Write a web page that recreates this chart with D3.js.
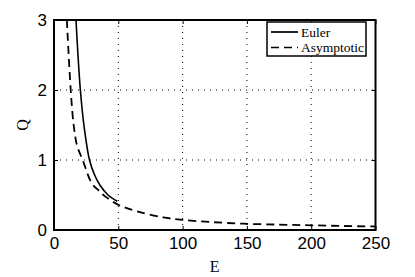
<!DOCTYPE html>
<html lang="en">
<head>
<meta charset="UTF-8">
<title>Q versus E</title>
<style>
  body { margin: 0; background: #fff; }
  svg { display: block; }
  .tick text { font-family: "Liberation Sans", Arial, sans-serif; font-size: 17px; fill: #000; }
  .lbl { font-family: "Liberation Serif", "DejaVu Serif", serif; font-size: 16px; fill: #000; }
  .leg { font-family: "Liberation Serif", "DejaVu Serif", serif; font-size: 13.5px; fill: #000; }
</style>
</head>
<body>
<div id="chart"></div>
<script src="https://d3js.org/d3.v7.min.js"></script>
<script>
// values
const eulerE = [17.1, 20.5, 23.6, 27.6, 31.5, 35.8, 42, 49.2];
const eulerQ = [3.0, 2.0, 1.45, 1.0, 0.79, 0.64, 0.5, 0.41];
const asymE = [10, 13, 15.3, 18, 22.3, 29.3, 35, 39.7, 50, 64, 85, 100, 121, 147, 175, 200, 225, 250];
const asymQ = [3.0, 2.0, 1.5, 1.2, 1.0, 0.67, 0.56, 0.48, 0.36, 0.27, 0.18, 0.145, 0.115, 0.09, 0.077, 0.067, 0.057, 0.05];
const xTicks = [0, 50, 100, 150, 200, 250];
const yTicks = [0, 1, 2, 3];

const W = 415, H = 277;
const m = { left: 54, right: 39.5, top: 20, bottom: 47 };
const iw = W - m.left - m.right, ih = H - m.top - m.bottom;

const svg = d3.select("#chart").append("svg").attr("width", W).attr("height", H);
const g = svg.append("g").attr("transform", `translate(${m.left},${m.top})`);

const x = d3.scaleLinear().domain([0, 250]).range([0, iw]);
const y = d3.scaleLinear().domain([0, 3]).range([ih, 0]);

svg.append("defs").append("clipPath").attr("id", "clip")
  .append("rect").attr("width", iw).attr("height", ih);

// dotted grid
g.append("g").selectAll("line")
  .data(xTicks.slice(1, -1))
  .enter().append("line")
  .attr("x1", d => x(d)).attr("x2", d => x(d))
  .attr("y1", 0).attr("y2", ih)
  .attr("stroke", "#000").attr("stroke-width", 1).attr("stroke-dasharray", "1,5");
g.append("g").selectAll("line")
  .data(yTicks.slice(1, -1))
  .enter().append("line")
  .attr("y1", d => y(d)).attr("y2", d => y(d))
  .attr("x1", 0).attr("x2", iw)
  .attr("stroke", "#000").attr("stroke-width", 1).attr("stroke-dasharray", "1,5");

// curves
const line = d3.line().x(d => x(d[0])).y(d => y(d[1])).curve(d3.curveCatmullRom.alpha(0.5));
const curves = g.append("g").attr("clip-path", "url(#clip)");
curves.append("path")
  .datum(eulerE.map((e, i) => [e, eulerQ[i]]))
  .attr("d", line).attr("fill", "none").attr("stroke", "#000").attr("stroke-width", 1.6);
curves.append("path")
  .datum(asymE.map((e, i) => [e, asymQ[i]]))
  .attr("d", line).attr("fill", "none").attr("stroke", "#000").attr("stroke-width", 1.8)
  .attr("stroke-dasharray", "8,5");

// axes
const xAxis = g.append("g").attr("transform", `translate(0,${ih})`)
  .call(d3.axisBottom(x).tickValues(xTicks).tickSize(-4).tickPadding(7));
const yAxis = g.append("g")
  .call(d3.axisLeft(y).tickValues(yTicks).tickFormat(d3.format("d")).tickSize(-4).tickPadding(7));
g.append("g")
  .call(d3.axisTop(x).tickValues(xTicks).tickSize(-4).tickFormat(""));
g.append("g").attr("transform", `translate(${iw},0)`)
  .call(d3.axisRight(y).tickValues(yTicks).tickSize(-4).tickFormat(""));
g.selectAll(".domain").remove();
g.selectAll(".tick line").attr("stroke", "#000").attr("stroke-width", 1);
xAxis.selectAll("text").attr("dy", "0.71em");

g.append("rect").attr("width", iw).attr("height", ih)
  .attr("fill", "none").attr("stroke", "#000").attr("stroke-width", 2);

// axis labels
svg.append("text").attr("class", "lbl")
  .attr("x", m.left + iw / 2).attr("y", H - 5)
  .attr("text-anchor", "middle").text("E");
svg.append("text").attr("class", "lbl")
  .attr("transform", `translate(28,${m.top + ih / 2}) rotate(-90)`)
  .attr("text-anchor", "middle").text("Q");

// legend
const leg = svg.append("g").attr("transform", "translate(267,22)");
leg.append("rect").attr("width", 99).attr("height", 34)
  .attr("fill", "#fff").attr("stroke", "#000").attr("stroke-width", 1.5);
const items = [["Euler", null], ["Asymptotic", "8,5"]];
items.forEach((it, i) => {
  leg.append("line")
    .attr("x1", 4).attr("x2", 31)
    .attr("y1", 10 + i * 15.5).attr("y2", 10 + i * 15.5)
    .attr("stroke", "#000").attr("stroke-width", 1.7)
    .attr("stroke-dasharray", it[1]);
  leg.append("text").attr("class", "leg")
    .attr("x", 34).attr("y", 14.5 + i * 15.5).text(it[0]);
});
</script>
</body>
</html>
